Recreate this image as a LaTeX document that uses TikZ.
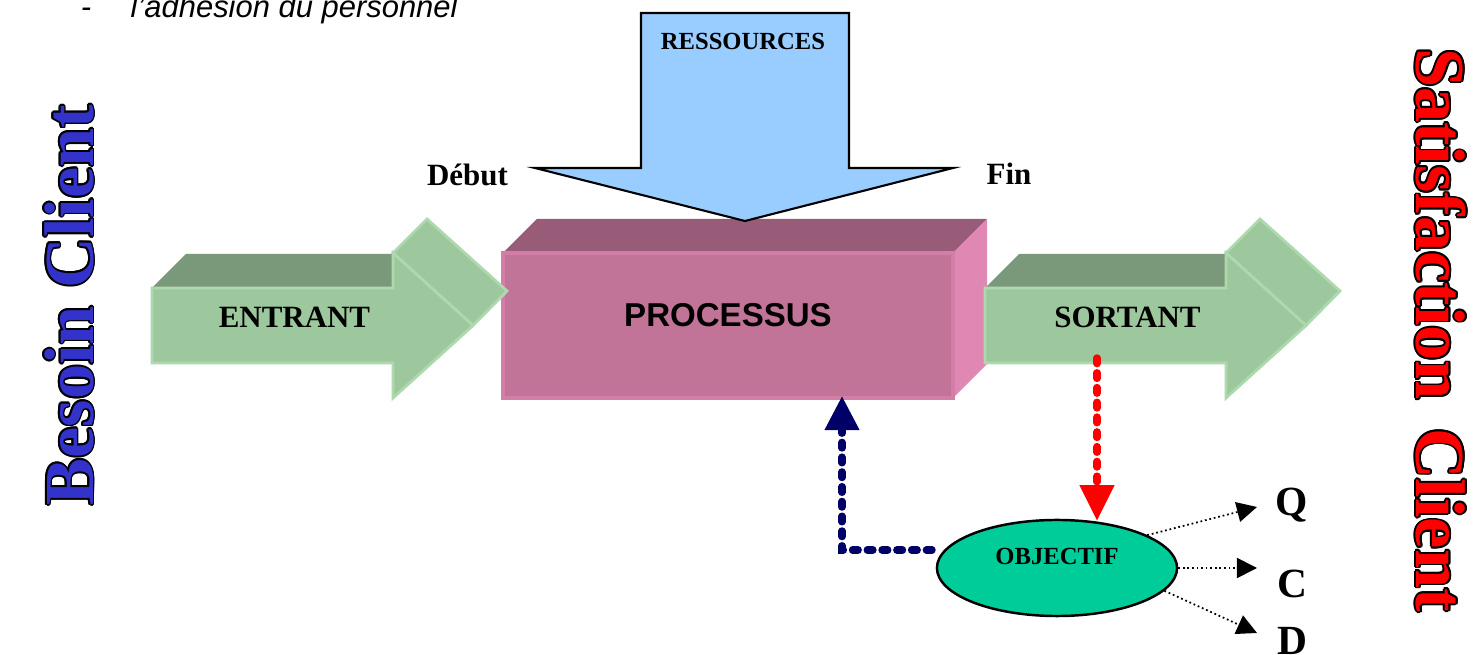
\documentclass[tikz,border=0pt]{standalone}
\usepackage{fontspec}
\setmainfont{Liberation Serif}
\setsansfont{Liberation Sans}
\usetikzlibrary{arrows.meta,shapes.geometric}

\definecolor{arrfront}{RGB}{157,200,157}
\definecolor{arrtop}{RGB}{122,152,122}
\definecolor{arredge}{RGB}{174,216,174}
\definecolor{procfront}{RGB}{194,116,152}
\definecolor{proctop}{RGB}{152,92,120}
\definecolor{procside}{RGB}{224,136,180}
\definecolor{procedge}{RGB}{210,126,166}
\definecolor{resblue}{RGB}{153,204,255}
\definecolor{objgreen}{RGB}{0,204,153}
\definecolor{besoinblue}{RGB}{51,51,204}
\definecolor{fbnavy}{RGB}{0,0,102}

\tikzset{
  lbl/.style={inner sep=0pt, font=\bfseries\fontsize{8.8}{10.5}\selectfont},
  petitlbl/.style={inner sep=0pt, font=\bfseries\fontsize{7}{8.4}\selectfont},
  proclbl/.style={inner sep=0pt, font=\sffamily\bfseries\fontsize{9.4}{11}\selectfont},
  qcd/.style={inner sep=0pt, font=\bfseries\fontsize{11.8}{14}\selectfont},
  topline/.style={inner sep=0pt, font=\sffamily\itshape\fontsize{8.8}{10.5}\selectfont},
  wordart/.style={inner sep=0pt, font=\bfseries\fontsize{20}{24}\selectfont},
  feedback/.style={fbnavy, line width=2.1pt, line cap=round, dash pattern=on 1.6pt off 2.6pt, -{Triangle[length=9.7pt,width=9.4pt]}},
  mesure/.style={red, line width=2.1pt, line cap=round, dash pattern=on 1.6pt off 2.6pt, -{Triangle[length=10.2pt,width=9.4pt]}},
  dotarrow/.style={line width=0.5pt, dash pattern=on 0.5pt off 0.8pt, -{Triangle[length=5.7pt,width=5.7pt]}},
}

\begin{document}
\begin{tikzpicture}[x=0.01cm,y=-0.01cm]
		\useasboundingbox (0,0) rectangle (1484,655);

		\node[topline, anchor=base] (tiret) at (86,18) {-};
		\node[topline, anchor=base west] (adhesion) at (130,18) {l'adhésion du personnel};

		\def\dep{34}
		\fill[proctop] (503,253) -- ++(\dep,-\dep) -- (987,219) -- (953,253) -- cycle;
		\fill[procside] (953,253) -- (987,219) -- (987,364) -- (953,398) -- cycle;
		\node[rectangle, fill=procfront, draw=procedge, line width=1pt, minimum width=4.5cm, minimum height=1.45cm, inner sep=0pt] (proc) at (728,325.5) {};
		\node[proclbl] (proctxt) at ([yshift=2.85pt]proc.center) {PROCESSUS};

		\foreach \sx/\nom/\txt in {0/entrant/ENTRANT, 833/sortant/SORTANT}{
			\begin{scope}[shift={(\sx,0)}]
				\fill[arrtop] (152,288) -- ++(\dep,-\dep) -- (393,254) -- (393,288) -- cycle;
				\filldraw[fill=arrfront, draw=arredge, line width=0.8pt] (393,253) -- ++(\dep,-\dep) -- (507,291) -- (473,325.5) -- cycle;
				\filldraw[fill=arrfront, draw=arredge, line width=0.8pt] (152,288) -- (393,288) -- (393,253) -- (473,325.5) -- (393,398) -- (393,363) -- (152,363) -- cycle;
				\node[lbl] (\nom) at (294.5,317.5) {\txt};
			\end{scope}
		}

		\draw[fill=resblue, line width=0.6pt] (641,13) -- (849,13) -- (849,168) -- (953,168) -- (745,221) -- (535,168) -- (641,168) -- cycle;
		\node[petitlbl, anchor=base] (ressources) at (743,50) {RESSOURCES};
		\node[lbl, anchor=base] (debut) at (467.5,186) {Début};
		\node[lbl, anchor=base] (fin) at (1009,185) {Fin};

		\node[ellipse, fill=objgreen, draw=black, line width=0.7pt, minimum width=2.4cm, minimum height=0.96cm, inner sep=0pt] (obj) at (1057,568) {};
		\node[petitlbl] (objtxt) at ([yshift=3.4pt]obj.center) {OBJECTIF};

		\coordinate (rs) at (1097,358);
		\coordinate (rt) at (1097,521);
		\draw[mesure] (rs) -- (rt);
		\coordinate (fbstart) at (932,550);
		\coordinate (fbend) at (842,396);
		\draw[feedback] (fbstart) -| (fbend);

		\node[qcd, anchor=base] (q) at (1292,516) {Q};
		\node[qcd, anchor=base] (c) at (1292,598) {C};
		\node[qcd, anchor=base] (d) at (1292,655) {D};
		\coordinate (tq) at (1257,507);
		\coordinate (tc) at (1257,568);
		\coordinate (td) at (1257,633);
		\draw[dotarrow] (obj.20) -- (tq);
		\draw[dotarrow] (obj.east) -- (tc);
		\draw[dotarrow] (obj.-12) -- (td);

		\foreach \a in {0,30,...,330}{
			\node[wordart, text=black, shift={(\a:1.8)}, rotate=90] at (69,305) {Besoin Client};
			\node[wordart, text=black, shift={(\a:1.8)}, rotate=-90] at (1441,330) {Satisfaction\hspace{0.4em}Client};
		}
		\node[wordart, text=besoinblue, rotate=90] (besoin) at (69,305) {Besoin Client};
		\node[wordart, text=red, rotate=-90] (satisfaction) at (1441,330) {Satisfaction\hspace{0.4em}Client};
\end{tikzpicture}
\end{document}
